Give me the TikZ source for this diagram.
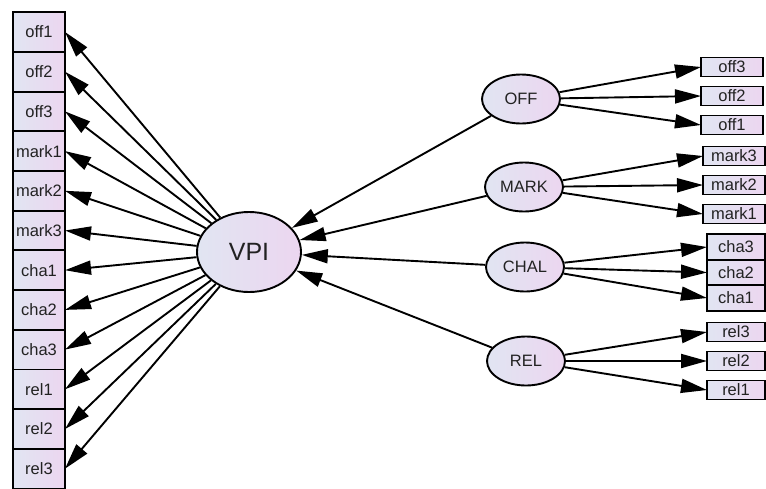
\documentclass[tikz,border=0pt]{standalone}
\usepackage{fontspec}
\setmainfont{Liberation Sans}
\usetikzlibrary{positioning, arrows.meta, shapes.geometric}

\definecolor{fillL}{HTML}{E1E5F2}
\definecolor{fillR}{HTML}{ECD6F0}
\definecolor{labelgray}{HTML}{222222}

\tikzset{
    latent/.style={ellipse, draw, line width=1.9pt, left color=fillL, right color=fillR,
        minimum width=78pt, minimum height=49pt, inner sep=0pt, text=labelgray,
        font=\fontsize{16.5}{16.5}\selectfont},
    observed/.style={rectangle, draw, line width=1.9pt, left color=fillL, right color=fillR,
        inner sep=0pt, outer sep=0pt, text=labelgray, font=\fontsize{16.5}{16.5}\selectfont},
    leftbox/.style={observed, minimum width=52pt, minimum height=39.7pt},
    rightbox/.style={observed, minimum width=62pt, minimum height=19pt},
    link/.style={->, line width=1.9pt},
}

\begin{document}
\begin{tikzpicture}[x=1pt, y=-1pt, >={Triangle[length=26pt, width=14pt]}]
    \useasboundingbox (0,0) rectangle (766,488);

    % 潜变量
    \node[latent, minimum width=104pt, minimum height=80pt, font=\fontsize{25}{25}\selectfont] (vpi) at (249,252) {VPI};
    \node[latent] (off) at (521,99) {OFF};
    \node[latent] (mark) at (524,187) {MARK};
    \node[latent] (chal) at (525,267) {CHAL};
    \node[latent] (rel) at (526,361) {REL};

    % VPI 的指标
    \node[leftbox] (v_off1) at (39,32) {off1};
    \node[leftbox] (v_off2) [below=0pt of v_off1] {off2};
    \node[leftbox] (v_off3) [below=0pt of v_off2] {off3};
    \node[leftbox] (v_mark1) [below=0pt of v_off3] {mark1};
    \node[leftbox] (v_mark2) [below=0pt of v_mark1] {mark2};
    \node[leftbox] (v_mark3) [below=0pt of v_mark2] {mark3};
    \node[leftbox] (v_cha1) [below=0pt of v_mark3] {cha1};
    \node[leftbox] (v_cha2) [below=0pt of v_cha1] {cha2};
    \node[leftbox] (v_cha3) [below=0pt of v_cha2] {cha3};
    \node[leftbox] (v_rel1) [below=0pt of v_cha3] {rel1};
    \node[leftbox] (v_rel2) [below=0pt of v_rel1] {rel2};
    \node[leftbox] (v_rel3) [below=0pt of v_rel2] {rel3};

    \draw[link] (vpi) -- (v_off1.east);
    \draw[link] (vpi) -- (v_off2.east);
    \draw[link] (vpi) -- (v_off3.east);
    \draw[link] (vpi) -- (v_mark1.east);
    \draw[link] (vpi) -- (v_mark2.east);
    \draw[link] (vpi) -- (v_mark3.east);
    \draw[link] (vpi) -- (v_cha1.east);
    \draw[link] (vpi) -- (v_cha2.east);
    \draw[link] (vpi) -- (v_cha3.east);
    \draw[link] (vpi) -- (v_rel1.east);
    \draw[link] (vpi) -- (v_rel2.east);
    \draw[link] (vpi) -- (v_rel3.east);

    % 各维度的指标
    \node[rightbox] (off3) at (732,67) {off3};
    \node[rightbox] (off2) [below=10pt of off3] {off2};
    \node[rightbox] (off1) [below=10pt of off2] {off1};
    \draw[link] (off) -- (off3.west);
    \draw[link] (off) -- (off2.west);
    \draw[link] (off) -- (off1.west);

    \node[rightbox] (mark3) at (734,156) {mark3};
    \node[rightbox] (mark2) [below=10pt of mark3] {mark2};
    \node[rightbox] (mark1) [below=10pt of mark2] {mark1};
    \draw[link] (mark) -- (mark3.west);
    \draw[link] (mark) -- (mark2.west);
    \draw[link] (mark) -- (mark1.west);

    \node[rightbox, minimum width=58pt, minimum height=25.5pt] (cha3) at (736,247) {cha3};
    \node[rightbox, minimum width=58pt, minimum height=25.5pt] (cha2) [below=0pt of cha3] {cha2};
    \node[rightbox, minimum width=58pt, minimum height=25.5pt] (cha1) [below=0pt of cha2] {cha1};
    \draw[link] (chal) -- (cha3.west);
    \draw[link] (chal) -- (cha2.west);
    \draw[link] (chal) -- (cha1.west);

    \node[rightbox, minimum width=58pt] (rel3) at (736,332) {rel3};
    \node[rightbox, minimum width=58pt] (rel2) [below=10pt of rel3] {rel2};
    \node[rightbox, minimum width=58pt] (rel1) [below=10pt of rel2] {rel1};
    \draw[link] (rel) -- (rel3.west);
    \draw[link] (rel) -- (rel2.west);
    \draw[link] (rel) -- (rel1.west);

    % 路径
    \draw[link] (off) -- (vpi);
    \draw[link] (mark) -- (vpi);
    \draw[link] (chal) -- (vpi);
    \draw[link] (rel) -- (vpi);
\end{tikzpicture}
\end{document}
